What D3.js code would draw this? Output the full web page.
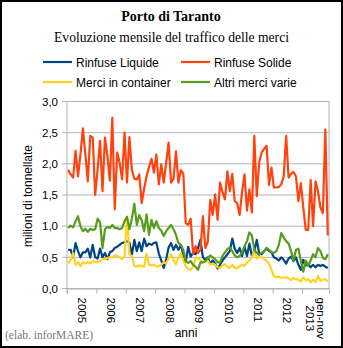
<!DOCTYPE html>
<html>
<head>
<meta charset="utf-8">
<script src="https://cdn.jsdelivr.net/npm/d3@7"></script>
<style>
  body { margin: 0; background: #fff; }
  svg { display: block; }
</style>
</head>
<body>
<svg id="chart" width="343" height="348"></svg>
<script>
"use strict";

// categorie: anni (l'ultimo e' parziale, gen-nov 2013)
var anni = ["2005", "2006", "2007", "2008", "2009", "2010", "2011", "2012", "gen-nov|2013"];
var mesiPerAnno = [12, 12, 12, 12, 12, 12, 12, 12, 11];

var nomiSerie = ["Rinfuse Liquide", "Rinfuse Solide", "Merci in container", "Altri merci varie"];

// milioni di tonnellate, mensile
var rinfuseLiquide = [
  0.62, 0.62, 0.50, 0.73, 0.60, 0.50, 0.58, 0.58, 0.64, 0.50, 0.70, 0.50,
  0.48, 0.64, 0.50, 0.57, 0.47, 0.58, 0.60, 0.65, 0.67, 0.70, 0.73, 0.74,
  0.76, 0.74, 0.54, 0.78, 0.60, 0.74, 0.60, 0.80, 0.68, 0.72, 0.70, 0.73,
  0.74, 0.56, 0.45, 0.33, 0.47, 0.66, 0.73, 0.62, 0.70, 0.62, 0.70, 0.54,
  0.43, 0.67, 0.51, 0.57, 0.55, 0.65, 0.78, 0.50, 0.46, 0.50, 0.40, 0.45,
  0.40, 0.32, 0.38, 0.45, 0.50, 0.55, 0.60, 0.80, 0.64, 0.57, 0.65, 0.52,
  0.67, 0.52, 0.72, 0.52, 0.60, 0.78, 0.56, 0.55, 0.60, 0.64, 0.60, 0.58,
  0.50, 0.48, 0.45, 0.50, 0.46, 0.40, 0.48, 0.51, 0.44, 0.50, 0.38, 0.30,
  0.46, 0.37, 0.40, 0.34, 0.38, 0.34, 0.38, 0.36, 0.38, 0.35, 0.33
];
var rinfuseSolide = [
  1.90, 1.83, 1.78, 2.21, 1.80, 2.15, 2.57, 2.15, 1.72, 2.45, 2.42, 1.50,
  1.91, 2.37, 1.56, 2.42, 2.13, 1.73, 2.74, 1.27, 2.18, 2.02, 1.75, 2.50,
  1.70, 2.43, 1.90, 1.76, 1.75, 1.83, 1.37, 1.60, 1.80, 1.95, 2.08, 1.86,
  2.15, 1.67, 1.99, 1.70, 2.02, 2.34, 1.70, 1.76, 2.20, 1.70, 1.90, 1.84,
  1.05, 1.02, 1.12, 0.55, 0.68, 0.57, 0.62, 1.16, 0.65, 0.75, 1.42, 1.18,
  1.51, 1.10, 1.70, 1.55, 1.43, 1.88, 1.56, 1.84, 1.40, 1.37, 1.18, 1.55,
  1.83, 1.25, 1.59, 1.22, 2.45, 1.48, 2.03, 2.18, 2.24, 2.29, 1.66, 1.94,
  1.62, 1.62, 1.63, 1.67, 1.80, 2.45, 1.78, 1.84, 1.87, 1.80, 1.40, 1.69,
  1.30, 0.94, 0.94, 1.74, 1.00, 1.72, 1.56, 1.30, 1.21, 2.55, 0.85
];
var merciContainer = [
  0.40, 0.46, 0.57, 0.38, 0.42, 0.36, 0.42, 0.40, 0.42, 0.40, 0.44, 0.43,
  0.42, 0.44, 0.47, 0.47, 0.49, 0.50, 0.50, 0.53, 0.52, 0.50, 0.47, 0.52,
  1.15, 0.55, 0.52, 0.36, 0.35, 0.37, 0.36, 0.35, 0.56, 0.38, 0.37, 0.38,
  0.35, 0.36, 0.38, 0.42, 0.40, 0.48, 0.55, 0.45, 0.39, 0.50, 0.56, 0.45,
  0.36, 0.31, 0.30, 0.35, 0.48, 0.49, 0.46, 0.42, 0.43, 0.45, 0.38, 0.40,
  0.38, 0.34, 0.33, 0.37, 0.39, 0.35, 0.33, 0.38, 0.33, 0.32, 0.36, 0.38,
  0.36, 0.42, 0.45, 0.50, 0.60, 0.48, 0.51, 0.50, 0.48, 0.44, 0.40, 0.30,
  0.20, 0.18, 0.19, 0.17, 0.18, 0.18, 0.16, 0.14, 0.17, 0.15, 0.14, 0.11,
  0.18, 0.13, 0.15, 0.10, 0.14, 0.10, 0.20, 0.12, 0.14, 0.15, 0.11
];
var altriMerciVarie = [
  0.97, 1.01, 0.98, 1.08, 1.16, 1.00, 0.92, 0.96, 0.91, 0.96, 0.94, 0.95,
  1.12, 1.06, 0.65, 0.95, 0.99, 0.97, 1.02, 0.97, 0.97, 0.95, 0.97, 1.08,
  1.15, 0.95, 1.12, 1.36, 1.02, 1.18, 1.10, 0.92, 1.19, 0.86, 1.10, 0.97,
  1.08, 0.97, 0.93, 0.84, 0.92, 0.97, 1.02, 0.95, 0.86, 0.73, 0.70, 0.62,
  0.44, 0.41, 0.44, 0.38, 0.35, 0.30, 0.42, 0.42, 0.44, 0.49, 0.53, 0.50,
  0.47, 0.42, 0.42, 0.52, 0.58, 0.63, 0.66, 0.60, 0.53, 0.50, 0.52, 0.58,
  0.68, 0.76, 0.90, 0.85, 0.62, 0.57, 0.54, 0.57, 0.60, 0.65, 0.62, 0.58,
  0.57, 0.60, 0.70, 0.89, 0.82, 0.76, 0.72, 0.60, 0.45, 0.62, 0.64, 0.45,
  0.27, 0.45, 0.36, 0.45, 0.55, 0.50, 0.65, 0.60, 0.49, 0.47, 0.55
];

var yTicks = [0, 0.5, 1, 1.5, 2, 2.5, 3];

// LibreOffice default palette
var colori = ["#004586", "#ff420e", "#ffd320", "#579d1c"];
var valori = [rinfuseLiquide, rinfuseSolide, merciContainer, altriMerciVarie];

var svg = d3.select("#chart");
var W = 343, H = 348;

svg.append("rect")
    .attr("x", 0).attr("y", 0).attr("width", W).attr("height", H)
    .attr("fill", "#fff");

var plot = {left: 67, right: 329, top: 101.5, bottom: 288.5};
var nMesi = d3.sum(mesiPerAnno);

var x = d3.scaleLinear().domain([0, nMesi]).range([plot.left, plot.right]);
var y = d3.scaleLinear().domain([0, 3]).range([plot.bottom, plot.top]);

var it = d3.formatLocale({decimal: ",", thousands: ".", grouping: [3], currency: ["", " €"]});
var fmt = it.format(".1f");

var sans = "'Liberation Sans', Arial, sans-serif";

// titles
svg.append("text")
    .attr("x", 171).attr("y", 21)
    .attr("text-anchor", "middle")
    .style("font", "bold 14px 'Liberation Serif', serif")
    .text("Porto di Taranto");
svg.append("text")
    .attr("x", 171.5).attr("y", 41.5)
    .attr("text-anchor", "middle")
    .style("font", "13.6px 'Liberation Serif', serif")
    .text("Evoluzione mensile del traffico delle merci");

// legend
var legPos = [[43, 62], [181, 62], [43, 82], [181, 82]];
var leg = svg.append("g").selectAll("g")
    .data(nomiSerie)
  .enter().append("g")
    .attr("transform", function(d, i) { return "translate(" + legPos[i][0] + "," + legPos[i][1] + ")"; });
leg.append("line")
    .attr("x1", 0).attr("x2", 29)
    .attr("stroke", function(d, i) { return colori[i]; })
    .attr("stroke-width", 2.2);
leg.append("text")
    .attr("x", 33).attr("y", 4.5)
    .style("font", "12px " + sans)
    .text(function(d) { return d; });

// grid
svg.append("g").selectAll("line")
    .data(yTicks)
  .enter().append("line")
    .attr("x1", plot.left - 5).attr("x2", plot.right)
    .attr("y1", function(d) { return y(d); })
    .attr("y2", function(d) { return y(d); })
    .attr("stroke", "#b3b3b3").attr("stroke-width", 1);

svg.append("line")
    .attr("x1", plot.right).attr("x2", plot.right)
    .attr("y1", plot.top).attr("y2", plot.bottom)
    .attr("stroke", "#b3b3b3");

// y axis
var yAxis = d3.axisLeft(y).tickValues(yTicks).tickFormat(fmt).tickSize(0).tickPadding(9);
var gy = svg.append("g").attr("transform", "translate(" + plot.left + ",0)").call(yAxis);
gy.select(".domain").attr("stroke", "#b3b3b3").attr("d", "M0," + plot.top + "V" + (plot.bottom + 5));
gy.selectAll("text")
    .attr("fill", "#000")
    .style("font", "11.5px " + sans);

// x axis: ticks at year boundaries
var confini = [0];
mesiPerAnno.forEach(function(m, i) { confini.push(confini[i] + m); });
var xAxis = d3.axisBottom(x).tickValues(confini).tickFormat("").tickSize(5).tickSizeOuter(0);
var gx = svg.append("g").attr("transform", "translate(0," + plot.bottom + ")").call(xAxis);
gx.select(".domain").attr("stroke", "#b3b3b3");
gx.selectAll(".tick line").attr("stroke", "#b3b3b3");

var lab = svg.append("g").selectAll("g")
    .data(anni)
  .enter().append("g")
    .attr("transform", function(d, i) {
      return "translate(" + x((confini[i] + confini[i + 1]) / 2) + "," + 297.5 + ") rotate(90)";
    });
lab.each(function(d) {
  var righe = d.split("|");
  var t = d3.select(this).append("text")
      .style("font", "11.5px " + sans)
      .attr("fill", "#000");
  righe.forEach(function(r, k) {
    t.append("tspan")
        .attr("x", 0)
        .attr("y", (k - (righe.length - 1) / 2) * 10.5)
        .attr("dy", "0.35em")
        .text(r);
  });
  if (righe.length > 1) {
    var sp = t.selectAll("tspan").nodes();
    var w0 = sp[0].getComputedTextLength();
    sp.forEach(function(s) {
      d3.select(s).attr("x", (w0 - s.getComputedTextLength()) / 2);
    });
  }
});

// axis titles
svg.append("text")
    .attr("transform", "translate(31.5,196) rotate(-90)")
    .attr("text-anchor", "middle")
    .style("font", "12px " + sans)
    .text("milioni di tonnellate");
svg.append("text")
    .attr("x", 186).attr("y", 336.5)
    .attr("text-anchor", "middle")
    .style("font", "12px " + sans)
    .text("anni");
svg.append("text")
    .attr("x", 5).attr("y", 339)
    .attr("fill", "#777")
    .style("font", "11.5px 'Liberation Serif', serif")
    .text("(elab. inforMARE)");

// lines
var linea = d3.line()
    .x(function(d, i) { return x(i + 0.5); })
    .y(function(d) { return y(d); });

svg.append("g").selectAll("path")
    .data(valori)
  .enter().append("path")
    .attr("d", linea)
    .attr("fill", "none")
    .attr("stroke", function(d, i) { return colori[i]; })
    .attr("stroke-width", 2.2)
    .attr("stroke-linejoin", "round");

// frame
svg.append("rect")
    .attr("x", 1).attr("y", 1).attr("width", W - 2).attr("height", H - 2)
    .attr("fill", "none").attr("stroke", "#000").attr("stroke-width", 2);
</script>
</body>
</html>
